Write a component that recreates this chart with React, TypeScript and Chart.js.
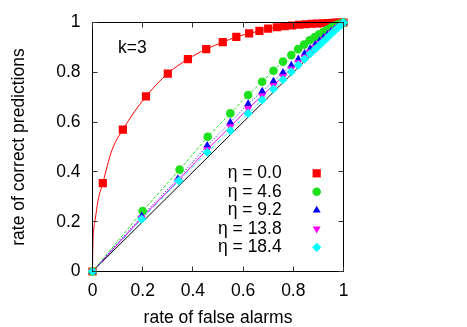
import React, { useEffect, useRef } from 'react';
import { Chart, registerables } from 'chart.js';

Chart.register(...registerables);

const FONT = '"Liberation Sans", Arial, Helvetica, sans-serif';

const xTickStep = 0.2;
const etaLabels = ['η = 0.0', 'η = 4.6', 'η = 9.2', 'η = 13.8', 'η = 18.4'];
const annotation = 'k=3';
const xTitle = 'rate of false alarms';
const yTitle = 'rate of correct predictions';

// η = 0.0 (markers)
const redX = [0, 0.041, 0.121, 0.213, 0.300, 0.380, 0.453, 0.519, 0.573, 0.624, 0.665, 0.700, 0.735, 0.766, 0.795, 0.823, 0.849, 0.873, 0.896, 0.917, 0.937, 0.955, 0.972, 0.987, 1.0];
const redY = [0, 0.355, 0.570, 0.703, 0.795, 0.853, 0.893, 0.921, 0.942, 0.956, 0.966, 0.975, 0.981, 0.985, 0.988, 0.991, 0.993, 0.995, 0.996, 0.997, 0.998, 0.999, 0.9995, 1.0, 1.0];
// η = 0.0 fitted curve
const redFitX = [0, 0.0005, 0.002, 0.005, 0.011, 0.022, 0.041, 0.077, 0.121, 0.213, 0.300, 0.380, 0.453, 0.519, 0.573, 0.624, 0.665, 0.700, 0.800, 0.900, 1.0];
const redFitY = [0, 0.05, 0.125, 0.17, 0.21, 0.285, 0.355, 0.486, 0.570, 0.703, 0.795, 0.853, 0.893, 0.921, 0.942, 0.956, 0.966, 0.975, 0.989, 0.997, 1.0];

// η = 4.6
const greenX = [0, 0.200, 0.347, 0.459, 0.549, 0.620, 0.676, 0.721, 0.759, 0.792, 0.819, 0.843, 0.865, 0.885, 0.903, 0.920, 0.936, 0.951, 0.965, 0.978, 0.990, 1.0];
const greenY = [0, 0.243, 0.409, 0.541, 0.635, 0.709, 0.762, 0.806, 0.843, 0.869, 0.893, 0.911, 0.929, 0.942, 0.953, 0.963, 0.972, 0.980, 0.987, 0.993, 0.997, 1.0];

// η = 9.2
const blueX = [0, 0.196, 0.340, 0.457, 0.549, 0.620, 0.676, 0.721, 0.759, 0.792, 0.820, 0.845, 0.867, 0.887, 0.905, 0.921, 0.937, 0.951, 0.965, 0.978, 0.990, 1.0];
const blueY = [0, 0.222, 0.372, 0.506, 0.599, 0.673, 0.723, 0.764, 0.799, 0.828, 0.853, 0.875, 0.894, 0.911, 0.926, 0.940, 0.952, 0.964, 0.975, 0.985, 0.993, 1.0];

// η = 13.8
const magentaX = [0, 0.196, 0.342, 0.457, 0.549, 0.620, 0.676, 0.721, 0.759, 0.792, 0.820, 0.845, 0.867, 0.887, 0.905, 0.921, 0.937, 0.951, 0.965, 0.978, 0.990, 1.0];
const magentaY = [0, 0.215, 0.366, 0.490, 0.582, 0.654, 0.706, 0.748, 0.783, 0.814, 0.840, 0.862, 0.882, 0.900, 0.916, 0.931, 0.945, 0.958, 0.970, 0.981, 0.991, 1.0];

// η = 18.4
const cyanX = [0, 0.196, 0.344, 0.457, 0.549, 0.620, 0.676, 0.721, 0.759, 0.792, 0.820, 0.845, 0.867, 0.887, 0.905, 0.921, 0.937, 0.951, 0.965, 0.978, 0.990, 1.0];
const cyanY = [0, 0.210, 0.364, 0.479, 0.566, 0.635, 0.689, 0.733, 0.770, 0.802, 0.829, 0.853, 0.874, 0.893, 0.910, 0.925, 0.940, 0.954, 0.967, 0.979, 0.990, 1.0];

// random-guess diagonal
const diagX = [0, 1];
const diagY = [0, 1];

const RED = '#ff0000';
const GREEN = '#1ee11e';
const BLUE = '#0000ff';
const MAGENTA = '#ff00ff';
const CYAN = '#00ffff';

const pts = (xs: number[], ys: number[]) => xs.map((x, i) => ({ x, y: ys[i] }));
const fmt = (v: number | string) => String(Number(Number(v).toFixed(1)));

function drawMarker(ctx: CanvasRenderingContext2D, style: string, rot: number, r: number, x: number, y: number, color: string) {
  ctx.save();
  ctx.fillStyle = color;
  ctx.beginPath();
  if (style === 'rect') {
    const s = Math.SQRT1_2 * r;
    ctx.rect(x - s, y - s, 2 * s, 2 * s);
  } else if (style === 'circle') {
    ctx.arc(x, y, r, 0, Math.PI * 2);
  } else if (style === 'triangle') {
    let rad = (rot * Math.PI) / 180;
    ctx.moveTo(x + Math.sin(rad) * r, y - Math.cos(rad) * r);
    rad += (2 * Math.PI) / 3;
    ctx.lineTo(x + Math.sin(rad) * r, y - Math.cos(rad) * r);
    rad += (2 * Math.PI) / 3;
    ctx.lineTo(x + Math.sin(rad) * r, y - Math.cos(rad) * r);
    ctx.closePath();
  } else if (style === 'rectRot') {
    ctx.moveTo(x - r, y);
    ctx.lineTo(x, y - r);
    ctx.lineTo(x + r, y);
    ctx.lineTo(x, y + r);
    ctx.closePath();
  }
  ctx.fill();
  ctx.restore();
}

const framePlugin = {
  id: 'frame',
  afterDraw(chart: any) {
    const { ctx, chartArea: a, scales } = chart;
    ctx.save();
    // border
    ctx.strokeStyle = '#000';
    ctx.lineWidth = 1;
    ctx.strokeRect(a.left, a.top, a.right - a.left, a.bottom - a.top);
    // inward ticks on all four sides
    const tl = 5;
    ctx.strokeStyle = '#333';
    ctx.beginPath();
    scales.x.ticks.forEach((t: any) => {
      const px = Math.round(scales.x.getPixelForValue(t.value) - 0.5) + 0.5;
      ctx.moveTo(px, a.bottom);
      ctx.lineTo(px, a.bottom - tl);
      ctx.moveTo(px, a.top);
      ctx.lineTo(px, a.top + tl);
    });
    scales.y.ticks.forEach((t: any) => {
      const py = Math.round(scales.y.getPixelForValue(t.value) - 0.5) + 0.5;
      ctx.moveTo(a.left, py);
      ctx.lineTo(a.left + tl, py);
      ctx.moveTo(a.right, py);
      ctx.lineTo(a.right - tl, py);
    });
    ctx.stroke();

    // annotation
    ctx.fillStyle = '#000';
    ctx.font = `17.5px ${FONT}`;
    ctx.textBaseline = 'middle';
    ctx.textAlign = 'left';
    ctx.fillText(annotation, a.left + 25.5, a.top + 25.5);

    // legend (bottom right, text right-aligned, marker on the right)
    const markers = chart.data.datasets.filter((d: any) => d.isMarker);
    const textRight = a.right - 61.8;
    const markX = a.right - 26.8;
    const rowTop = a.top + 150.8;
    const rowGap = 18.5;
    ctx.textAlign = 'right';
    markers.forEach((d: any, i: number) => {
      const y = rowTop + i * rowGap;
      ctx.fillStyle = '#000';
      ctx.fillText(d.label, textRight, y);
      drawMarker(ctx, d.pointStyle, d.pointRotation || 0, d.pointRadius, markX, y, d.backgroundColor);
    });
    ctx.restore();
  },
};

export default function App() {
  const ref = useRef<HTMLCanvasElement | null>(null);

  useEffect(() => {
    if (!ref.current) return;
    Chart.defaults.color = '#000';
    Chart.defaults.font.family = FONT;

    const marker = (label: string, xs: number[], ys: number[], color: string, style: string, radius: number, order: number, rotation = 0) => ({
      label,
      isMarker: true,
      data: pts(xs, ys),
      showLine: false,
      pointStyle: style,
      pointRotation: rotation,
      pointRadius: radius,
      pointHoverRadius: radius,
      pointBorderWidth: 0,
      borderWidth: 0,
      backgroundColor: color,
      borderColor: color,
      order,
      clip: 12,
    });

    const line = (xs: number[], ys: number[], color: string, dash: number[], order: number, smooth = false) => ({
      label: '',
      data: pts(xs, ys),
      showLine: true,
      pointRadius: 0,
      pointHoverRadius: 0,
      borderColor: color,
      backgroundColor: color,
      borderWidth: 1,
      borderDash: dash,
      cubicInterpolationMode: smooth ? 'monotone' : 'default',
      tension: 0,
      order,
      clip: 2,
    });

    const chart = new Chart(ref.current, {
      type: 'scatter',
      data: {
        datasets: [
          marker(etaLabels[0], redX, redY, RED, 'rect', 5.8, 5),
          marker(etaLabels[1], greenX, greenY, GREEN, 'circle', 4.3, 4),
          marker(etaLabels[2], blueX, blueY, BLUE, 'triangle', 4.6, 3),
          marker(etaLabels[3], magentaX, magentaY, MAGENTA, 'triangle', 4.6, 2, 180),
          marker(etaLabels[4], cyanX, cyanY, CYAN, 'rectRot', 4.6, 1),
          line(redFitX, redFitY, RED, [], 10, true),
          line(greenX, greenY, GREEN, [3, 2], 11),
          line(blueX, blueY, BLUE, [1, 2], 12),
          line(magentaX, magentaY, MAGENTA, [], 13),
          line(cyanX, cyanY, CYAN, [4, 2, 1, 2], 14),
          line(diagX, diagY, '#000', [], 15),
        ] as any,
      },
      options: {
        responsive: false,
        animation: false,
        events: [],
        layout: { padding: { left: 0, top: 21.5, right: 123.5, bottom: 0 } },
        plugins: {
          legend: { display: false },
          tooltip: { enabled: false },
        },
        scales: {
          x: {
            type: 'linear',
            min: 0,
            max: 1,
            grid: { display: false, drawTicks: false },
            border: { display: false },
            ticks: { stepSize: xTickStep, padding: 9, font: { size: 17.5 }, color: '#000', maxRotation: 0, callback: (v: any) => fmt(v) },
            title: { display: true, text: xTitle, font: { size: 17.5, lineHeight: 1.0 }, color: '#000', padding: { top: 0, bottom: 0 } },
            afterFit: (s: any) => { s.height = 55.5; },
          },
          y: {
            type: 'linear',
            min: 0,
            max: 1,
            grid: { display: false, drawTicks: false },
            border: { display: false },
            ticks: { stepSize: xTickStep, padding: 12, font: { size: 17.5 }, color: '#000', callback: (v: any) => fmt(v) },
            title: { display: true, text: yTitle, font: { size: 17.5 }, color: '#000', padding: { top: 9, bottom: 0 } },
            afterFit: (s: any) => { s.width = 92.5; },
          },
        },
      } as any,
      plugins: [framePlugin],
    });
    return () => chart.destroy();
  }, []);

  return (
    <div style={{ position: 'absolute', left: 0, top: 0, width: 467, height: 327, background: '#fff' }}>
      <canvas ref={ref} width={467} height={327} style={{ display: 'block', width: 467, height: 327 }} />
    </div>
  );
}
